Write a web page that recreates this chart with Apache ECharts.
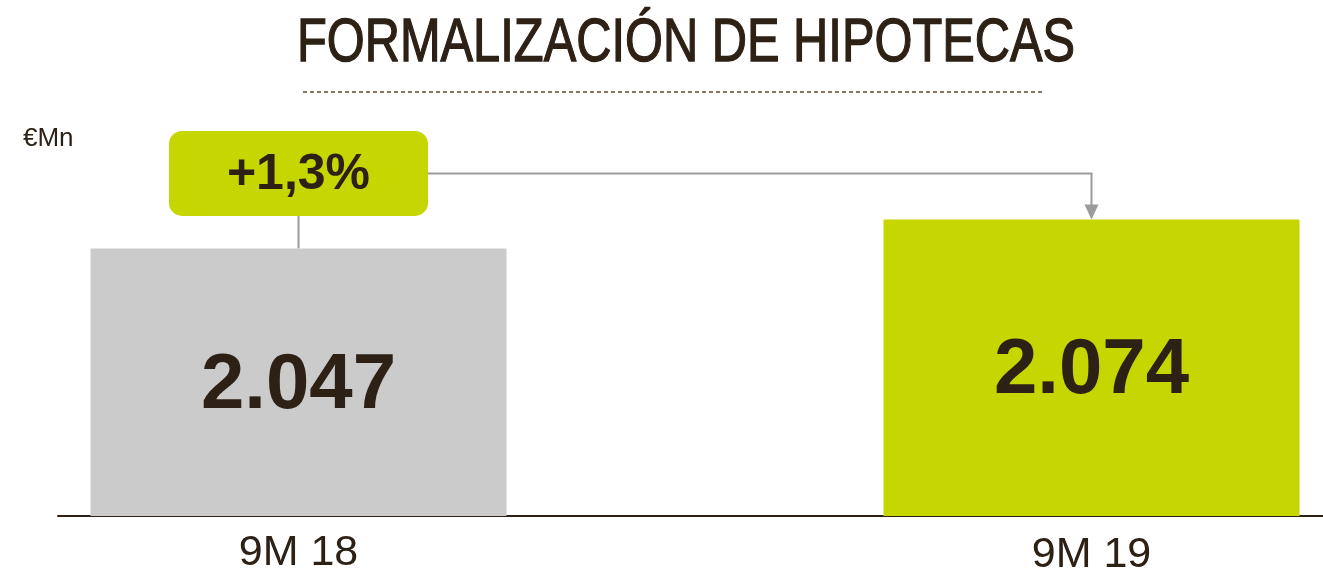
<!DOCTYPE html>
<html lang="es">
<head>
    <meta charset="UTF-8">
    <title>Formalización de hipotecas</title>
    <script src="https://cdn.jsdelivr.net/npm/echarts@6/dist/echarts.min.js"></script>
    <style>
        * { margin: 0; padding: 0; box-sizing: border-box; }
        body { background: #fff; }
        #main { width: 1323px; height: 580px; }
    </style>
</head>
<body>
    <div id="main"></div>

    <script>
        // datos
        const periods = ['9M 18', '9M 19'];
        const values = [2047, 2074];
        const barColors = ['#cbcbcb', '#c5d600'];

        const dark = '#2d2116';
        const green = '#c5d600';
        const connector = '#9b9b9b';

        // 2047 -> "2.047"
        function fmt(v) {
            return String(v).replace(/\B(?=(\d{3})+(?!\d))/g, '.');
        }
        const growth = (values[1] / values[0] - 1) * 100;
        const growthText = (growth >= 0 ? '+' : '') + growth.toFixed(1).replace('.', ',') + '%';

        var chart = echarts.init(document.getElementById('main'));

        var option = {
            backgroundColor: '#fff',
            animation: false,
            title: {
                text: '€Mn',
                left: 18,
                top: 121,
                textStyle: { fontFamily: 'Liberation Sans', fontSize: 26, fontWeight: 'normal', color: dark }
            },
            grid: [
                { left: -98, top: 84, width: 1586, bottom: 64, outerBoundsMode: 'none', containLabel: false },
                { left: 58, top: 84, right: 0, bottom: 64, outerBoundsMode: 'none' }
            ],
            xAxis: [
                {
                    type: 'category',
                    gridIndex: 0,
                    data: periods,
                    axisLine: { show: false },
                    axisTick: { show: false },
                    axisLabel: {
                        margin: 15,
                        formatter: function (v, i) { return i === 0 ? '{a|' + v + '}' : '{b|' + v + '}'; },
                        rich: {
                            a: { fontFamily: 'Liberation Sans', fontSize: 43, color: dark, lineHeight: 44 },
                            b: { fontFamily: 'Liberation Sans', fontSize: 43, color: dark, lineHeight: 44, padding: [5, 0, 0, 0] }
                        }
                    }
                },
                {
                    type: 'value',
                    gridIndex: 1,
                    min: 0,
                    max: 1,
                    axisLine: { show: true, lineStyle: { color: dark, width: 2 } },
                    axisTick: { show: false },
                    axisLabel: { show: false },
                    splitLine: { show: false }
                }
            ],
            yAxis: [
                { type: 'value', gridIndex: 0, min: 1798, max: 2200, show: false },
                { type: 'value', gridIndex: 1, min: 0, max: 1, show: false }
            ],
            series: [{
                type: 'bar',
                xAxisIndex: 0,
                yAxisIndex: 0,
                barWidth: 416,
                data: values.map(function (v, i) {
                    return { value: v, itemStyle: { color: barColors[i] } };
                }),
                label: {
                    show: true,
                    position: 'inside',
                    offset: [0, 4],
                    formatter: function (p) { return fmt(p.value); },
                    fontFamily: 'Liberation Sans',
                    fontWeight: 'bold',
                    fontSize: 78,
                    color: dark
                }
            }]
        };

        chart.setOption(option);

        function drawNotes() {
            var p0 = chart.convertToPixel({ xAxisIndex: 0, yAxisIndex: 0 }, [periods[0], values[0]]);
            var p1 = chart.convertToPixel({ xAxisIndex: 0, yAxisIndex: 0 }, [periods[1], values[1]]);
            var bw = 259, bh = 85;
            var cy = p1[1] - 46;
            chart.setOption({
                graphic: [
                    {
                        type: 'text', x: 686, y: 44, scaleX: 0.8,
                        style: {
                            text: 'FORMALIZACIÓN DE HIPOTECAS',
                            font: '61px "Liberation Sans"',
                            fill: dark,
                            stroke: dark,
                            lineWidth: 1.3,
                            textAlign: 'center', textVerticalAlign: 'middle',
                            align: 'center', verticalAlign: 'middle'
                        }
                    },
                    {
                        type: 'line',
                        shape: { x1: 303, y1: 92, x2: 1043, y2: 92 },
                        style: { stroke: '#8a7560', lineWidth: 2, lineDash: [4, 3] }
                    },
                    {
                        type: 'line',
                        shape: { x1: p0[0], y1: cy + bh / 2, x2: p0[0], y2: p0[1] },
                        style: { stroke: connector, lineWidth: 2 }
                    },
                    {
                        type: 'polyline',
                        shape: { points: [[p0[0] + bw / 2, cy], [p1[0], cy], [p1[0], p1[1] - 14]] },
                        style: { stroke: connector, lineWidth: 2, fill: null }
                    },
                    {
                        type: 'polygon',
                        shape: { points: [[p1[0] - 7, p1[1] - 15], [p1[0] + 7, p1[1] - 15], [p1[0], p1[1]]] },
                        style: { fill: connector }
                    },
                    {
                        type: 'rect',
                        shape: { x: p0[0] - bw / 2, y: cy - bh / 2, width: bw, height: bh, r: 13 },
                        style: { fill: green }
                    },
                    {
                        type: 'text', x: p0[0], y: cy + 2,
                        style: {
                            text: growthText,
                            font: 'bold 50px "Liberation Sans"',
                            fill: dark,
                            textAlign: 'center', textVerticalAlign: 'middle',
                            align: 'center', verticalAlign: 'middle'
                        }
                    }
                ]
            });
        }
        drawNotes();

        window.addEventListener('resize', function () {
            chart.resize();
            drawNotes();
        });
    </script>
</body>
</html>
